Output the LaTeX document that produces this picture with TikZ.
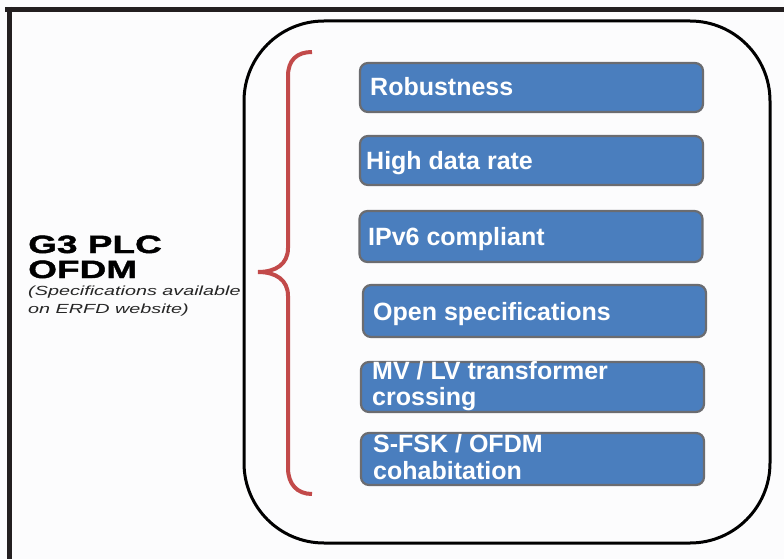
\documentclass[tikz,border=0pt]{standalone}
\usepackage{fontspec}
\setmainfont{Liberation Sans}
\newfontfamily\widefont[FakeStretch=1.5]{Liberation Sans}
\newfontfamily\heavywide[FakeStretch=1.48,FakeBold=1.6]{Liberation Sans Bold}
\definecolor{boxblue}{HTML}{4A7EBE}
\definecolor{boxedge}{HTML}{6B6C70}
\definecolor{bracered}{HTML}{C24A4A}
\definecolor{framedark}{HTML}{231F20}
\definecolor{paper}{HTML}{FCFCFD}
\begin{document}
\begin{tikzpicture}[x=1pt,y=-1pt,
  feat/.style={draw=boxedge, line width=2.2pt, fill=boxblue, rounded corners=8pt,
    minimum width=343pt, inner sep=0pt},
  feattext/.style={anchor=base west, inner sep=0pt, text=white,
    font=\bfseries\fontsize{25}{27}\selectfont},
  titletext/.style={anchor=base west, inner sep=0pt, text=black,
    font=\heavywide\fontsize{25}{25}\selectfont},
  subtext/.style={anchor=base west, inner sep=0pt, text=black!85,
    font=\widefont\itshape\fontsize{13.2}{15}\selectfont}
]
\useasboundingbox (0,0) rectangle (784,559);
\fill[paper] (0,0) rectangle (784,559);
% outer frame
\draw[framedark, line width=5pt] (5,9.5) -- (784,9.5);
\draw[framedark, line width=5pt] (9.5,7) -- (9.5,559);
% big rounded container
\draw[black, line width=3pt, rounded corners=80pt] (244,21) rectangle (770,543);
% brace
\draw[bracered, line width=4pt]
  (312,52) .. controls (297,52) and (288,60) .. (288,76)
  -- (288,248) .. controls (288,264) and (276,272) .. (258,272)
  .. controls (276,272) and (288,280) .. (288,296)
  -- (288,468) .. controls (288,484) and (297,494) .. (312,494);
% left title
\node[titletext] (t1) at (28,253) {G3 PLC};
\node[titletext] (t2) at (28,278) {OFDM};
\node[subtext] (s1) at (28,295) {(Specifications available};
\node[subtext] (s2) at (28,313) {on ERFD website)};
% feature boxes
\node[feat, minimum height=49pt] (b1) at (531.5,87.5) {};
\node[feat, minimum height=49pt] (b2) at (531.5,160.5) {};
\node[feat, minimum height=51pt] (b3) at (531,236.5) {};
\node[feat, minimum height=52pt] (b4) at (534.5,311) {};
\node[feat, minimum height=50pt] (b5) at (532.5,387) {};
\node[feat, minimum height=52pt] (b6) at (532.5,459) {};
% feature texts
\node[feattext] (f1) at (370,96) {Robustness};
\node[feattext] (f2) at (366,169) {High data rate};
\node[feattext] (f3) at (368,245) {IPv6 compliant};
\node[feattext] (f4) at (373,320) {Open specifications};
\node[feattext] (f5a) at (372,379) {MV / LV transformer};
\node[feattext] (f5b) at (372,405) {crossing};
\node[feattext] (f6a) at (373,452) {S-FSK / OFDM};
\node[feattext] (f6b) at (373,479) {cohabitation};
\end{tikzpicture}
\end{document}
